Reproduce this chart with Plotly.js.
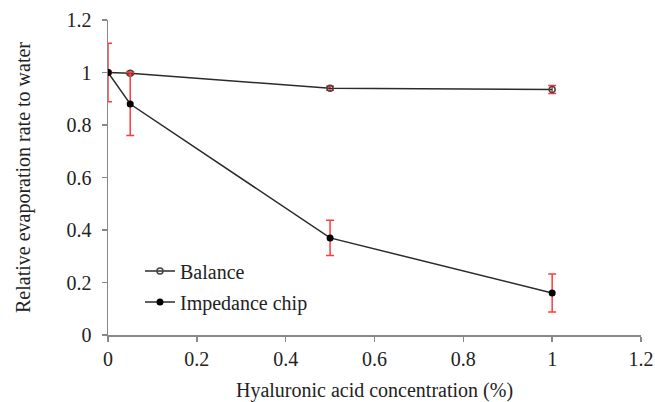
<!DOCTYPE html>
<html>
<head>
<meta charset="utf-8">
<script src="https://cdn.plot.ly/plotly-3.0.1.min.js"></script>
<style>html,body{margin:0;padding:0;background:#fff;}#chart{width:655px;height:402px;}#chart svg text{font-family:'Times New Roman' !important;}</style>
</head>
<body>
<div id="chart"></div>
<script>
const concentration = [0, 0.05, 0.5, 1];
const balanceValues = [1, 0.997, 0.94, 0.935];
const balanceErrors = [0.005, 0.005, 0.008, 0.015];
const chipValues = [1, 0.88, 0.37, 0.16];
const chipErrors = [0.111, 0.12, 0.067, 0.072];
const xTickVals = [0, 0.2, 0.4, 0.6, 0.8, 1, 1.2];
const xTickText = ['0', '0.2', '0.4', '0.6', '0.8', '1', '1.2'];
const yTickVals = [0, 0.2, 0.4, 0.6, 0.8, 1, 1.2];
const yTickText = ['0', '0.2', '0.4', '0.6', '0.8', '1', '1.2'];

(function () {
  const SERIF = 'Times New Roman';
  function mkFont() { return {family: SERIF, size: 20, color: '#222'}; }
  function mkErr(arr) { return {type: 'data', array: arr, visible: true, color: '#ff3b3b', thickness: 1.5, width: 4}; }

  const traces = [
    {
      x: concentration, y: balanceValues, name: 'Balance', mode: 'lines+markers',
      legendgroup: 'a',
      line: {color: '#2b2b2b', width: 1.5},
      marker: {symbol: 'circle-open', size: 6, color: '#444', line: {width: 1.5, color: '#444'}},
      error_y: mkErr(balanceErrors)
    },
    {
      x: concentration, y: chipValues, name: 'Impedance chip', mode: 'lines+markers',
      legendgroup: 'b',
      line: {color: '#2b2b2b', width: 1.5},
      marker: {symbol: 'circle', size: 7, color: '#000'},
      error_y: mkErr(chipErrors)
    }
  ];

  function mkAxis(vals, text, title, standoff, labelGap) {
    return {
      range: [0, 1.2], tickmode: 'array', tickvals: vals, ticktext: text,
      showgrid: false, zeroline: false, showline: true, linecolor: '#888', linewidth: 1.5,
      ticks: 'outside', ticklen: 5, tickcolor: '#888', tickwidth: 1.5,
      ticklabelstandoff: labelGap,
      tickfont: mkFont(),
      title: {text: title, font: mkFont(), standoff: standoff}
    };
  }

  const layout = {
    width: 655, height: 402,
    margin: {l: 108, r: 14, t: 20, b: 67},
    paper_bgcolor: '#fff', plot_bgcolor: '#fff',
    font: mkFont(),
    showlegend: true,
    legend: {
      x: 0.06, y: 0.265, xanchor: 'left', yanchor: 'top',
      traceorder: 'grouped', tracegroupgap: 2,
      font: mkFont(),
      bgcolor: 'rgba(0,0,0,0)'
    },
    xaxis: mkAxis(xTickVals, xTickText, 'Hyaluronic acid concentration (%)', 18, 0),
    yaxis: mkAxis(yTickVals, yTickText, 'Relative evaporation rate to water', 30, 6)
  };

  Plotly.newPlot('chart', traces, layout, {displayModeBar: false, staticPlot: true});
})();
</script>
</body>
</html>
